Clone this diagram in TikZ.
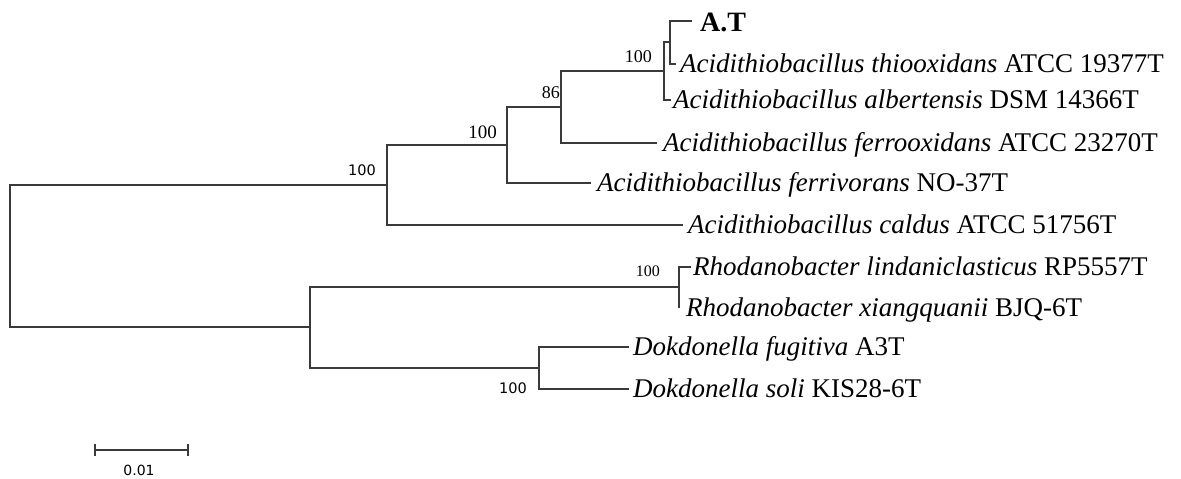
\documentclass[tikz,border=0pt]{standalone}
\usepackage{fontspec}
\setmainfont{Liberation Serif}
\newfontfamily\djv{DejaVu Sans}
\definecolor{branch}{HTML}{3A3A3A}
\begin{document}
\begin{tikzpicture}[x=1pt,y=-1pt,
  br/.style={draw=branch,line width=1.2pt},
  leaf/.style={anchor=base west,inner sep=0pt,font=\fontsize{27}{29}\selectfont},
  bsr/.style={anchor=east,inner sep=0pt,font=\fontsize{18}{20}\selectfont},
  bss/.style={anchor=east,inner sep=0pt,font=\djv\fontsize{14.5}{16}\selectfont}]
\useasboundingbox (0,0) rectangle (1181,479);
% internal nodes
\coordinate (r) at (10,256);
\coordinate (n5) at (387,185);
\coordinate (n4) at (507,145);
\coordinate (n3) at (561,107);
\coordinate (n2) at (664,71);
\coordinate (n1) at (670,42);
\coordinate (lo) at (310,327);
\coordinate (rh) at (679,287);
\coordinate (dk) at (539,368);
% leaf tips
\coordinate (tAT) at (692,21);
\coordinate (tth) at (676,64);
\coordinate (tal) at (671,100);
\coordinate (tfo) at (657,143);
\coordinate (tfv) at (591,183);
\coordinate (tca) at (683,225);
\coordinate (trl) at (691,267);
\coordinate (trx) at (679,308);
\coordinate (tdf) at (629,347);
\coordinate (tds) at (629,389);
% branches
\draw[br] (r) |- (n5); \draw[br] (r) |- (lo);
\draw[br] (n5) |- (n4); \draw[br] (n5) |- (tca);
\draw[br] (n4) |- (n3); \draw[br] (n4) |- (tfv);
\draw[br] (n3) |- (n2); \draw[br] (n3) |- (tfo);
\draw[br] (n2) |- (n1); \draw[br] (n2) |- (tal);
\draw[br] (n1) |- (tAT); \draw[br] (n1) |- (tth);
\draw[br] (lo) |- (rh); \draw[br] (lo) |- (dk);
\draw[br] (rh) |- (trl); \draw[br] (rh) |- (trx);
\draw[br] (dk) |- (tdf); \draw[br] (dk) |- (tds);
% leaf labels
\node[leaf,font=\fontsize{28}{30}\selectfont\bfseries] (lAT) at (700,31) {A.T};
\node[leaf] (lth) at (680,72) {\textit{Acidithiobacillus thiooxidans} ATCC 19377T};
\node[leaf] (lal) at (673,108) {\textit{Acidithiobacillus albertensis} DSM 14366T};
\node[leaf] (lfo) at (663,151) {\textit{Acidithiobacillus ferrooxidans} ATCC 23270T};
\node[leaf] (lfv) at (597,191) {\textit{Acidithiobacillus ferrivorans} NO-37T};
\node[leaf] (lca) at (688,233) {\textit{Acidithiobacillus caldus} ATCC 51756T};
\node[leaf] (lrl) at (693,275) {\textit{Rhodanobacter lindaniclasticus} RP5557T};
\node[leaf] (lrx) at (686,316) {\textit{Rhodanobacter xiangquanii} BJQ-6T};
\node[leaf] (ldf) at (633,355) {\textit{Dokdonella fugitiva} A3T};
\node[leaf] (lds) at (633,397) {\textit{Dokdonella soli} KIS28-6T};
% bootstrap values
\node[bss] (b5) at (376,170) {100};
\node[bsr,font=\fontsize{19}{21}\selectfont] (b4) at (497,132) {100};
\node[bsr] (b3) at (560,93) {86};
\node[bsr] (b2) at (652,57) {100};
\node[bsr,font=\fontsize{16}{18}\selectfont] (brh) at (660,271) {100};
\node[bss] (bdk) at (527,388) {100};
% scale bar
\coordinate (s1) at (95,450);
\coordinate (s2) at (188,450);
\draw[br] (s1) -- (s2);
\draw[br] ([yshift=-6]s1) -- ([yshift=6]s1);
\draw[br] ([yshift=-6]s2) -- ([yshift=6]s2);
\node[inner sep=0pt,font=\djv\fontsize{14}{16}\selectfont] (sl) at (139,470) {0.01};
\end{tikzpicture}
\end{document}
